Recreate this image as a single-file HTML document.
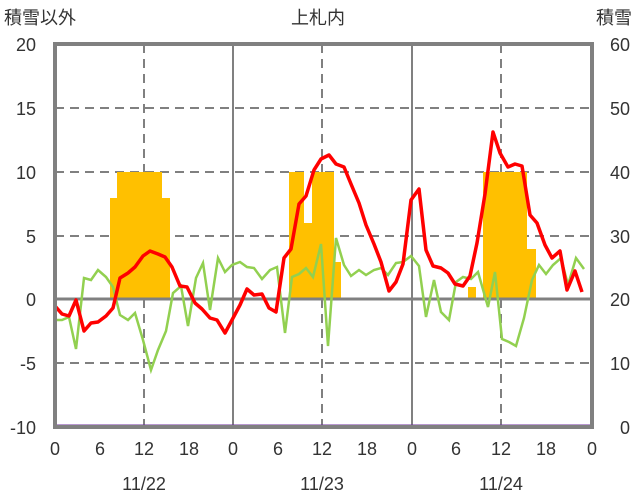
<!DOCTYPE html><html><head><meta charset="utf-8"><style>body{margin:0;background:#fff}svg{display:block}text{font-family:"Liberation Sans","Noto Sans CJK JP",sans-serif;font-size:18px;fill:#333}</style></head><body>
<svg width="636" height="501" xmlns="http://www.w3.org/2000/svg">
<g stroke="#808080" stroke-width="2" stroke-dasharray="9,6">
<line x1="55" y1="108" x2="592" y2="108"/><line x1="55" y1="172" x2="592" y2="172"/><line x1="55" y1="236" x2="592" y2="236"/><line x1="55" y1="363" x2="592" y2="363"/>
<line x1="144" y1="44" x2="144" y2="427"/><line x1="322" y1="44" x2="322" y2="427"/><line x1="501" y1="44" x2="501" y2="427"/>
</g>
<g fill="#FFC000">
<rect x="110" y="198" width="7" height="101"/><rect x="117" y="172" width="45" height="127"/><rect x="162" y="198" width="8" height="101"/>
<rect x="289" y="172" width="15" height="127"/><rect x="304" y="223" width="8" height="76"/><rect x="312" y="172" width="22" height="127"/><rect x="334" y="262" width="7" height="37"/>
<rect x="468" y="287" width="8" height="12"/><rect x="483" y="172" width="44" height="127"/><rect x="527" y="249" width="9" height="50"/>
</g>
<g stroke="#808080" stroke-width="2"><line x1="233" y1="44" x2="233" y2="427"/><line x1="412" y1="44" x2="412" y2="427"/></g>
<line x1="55" y1="299" x2="592" y2="299" stroke="#808080" stroke-width="3"/>
<polyline fill="none" stroke="#92D050" stroke-width="2.5" points="55,320 62,320 69,317 76,349 84,278 91,280 98,270 106,277 113,287 120,315 128,320 135,313 143,340 151,370 158,350 166,331 173,293 181,286 188,326 196,278 203,263 210,310 218,258 225,272 232,265 240,262 247,267 254,268 262,279 270,270 277,267 285,333 292,277 299,274 306,268 313,277 321,244 328,346 336,238 344,265 351,276 359,270 366,275 374,270 381,268 388,275 396,263 403,262 411,256 419,266 426,317 434,280 441,312 449,320 456,282 463,277 471,279 478,272 488,307 495,272 502,339 509,342 516,346 524,318 532,280 539,265 546,274 553,265 561,258 568,285 576,258 584,269"/>
<polyline fill="none" stroke="#FF0000" stroke-width="3.5" stroke-linejoin="round" points="55,306 62,314 69,316 76,300 84,331 91,323 98,322 106,316 113,308 120,278 128,273 135,267 143,256 150,251 158,254 165,257 172,267 180,286 187,287 195,303 202,309 210,318 217,320 225,333 232,320 240,305 247,289 254,295 262,294 269,308 276,312 284,258 291,249 299,204 306,196 314,170 321,159 329,155 336,164 344,167 351,184 359,203 366,225 374,244 381,262 389,291 396,282 403,264 411,200 419,189 426,250 433,266 441,268 448,273 455,284 463,286 470,276 477,243 485,194 493,132 500,153 508,167 515,164 522,166 530,215 537,223 545,245 552,258 560,251 567,290 575,271 582,292"/>
<line x1="55" y1="426" x2="592" y2="426" stroke="#7030A0" stroke-width="3"/>
<rect x="55" y="44" width="537" height="383" fill="none" stroke="#808080" stroke-width="4"/>
<text x="318" y="24" text-anchor="middle">上札内</text>
<text x="4" y="24">積雪以外</text><text x="632" y="24" text-anchor="end">積雪</text>
<g text-anchor="end"><text x="36" y="51">20</text><text x="36" y="115">15</text><text x="36" y="179">10</text><text x="36" y="243">5</text><text x="36" y="306">0</text><text x="36" y="370">-5</text><text x="36" y="434">-10</text></g>
<g text-anchor="end"><text x="630" y="51">60</text><text x="630" y="115">50</text><text x="630" y="179">40</text><text x="630" y="243">30</text><text x="630" y="306">20</text><text x="630" y="370">10</text><text x="630" y="434">0</text></g>
<g text-anchor="middle"><text x="55" y="455">0</text><text x="100" y="455">6</text><text x="144" y="455">12</text><text x="189" y="455">18</text><text x="233" y="455">0</text><text x="278" y="455">6</text><text x="322" y="455">12</text><text x="367" y="455">18</text><text x="412" y="455">0</text><text x="456" y="455">6</text><text x="501" y="455">12</text><text x="546" y="455">18</text><text x="592" y="455">0</text>
<text x="144" y="490">11/22</text><text x="322" y="490">11/23</text><text x="501" y="490">11/24</text></g>
</svg></body></html>
